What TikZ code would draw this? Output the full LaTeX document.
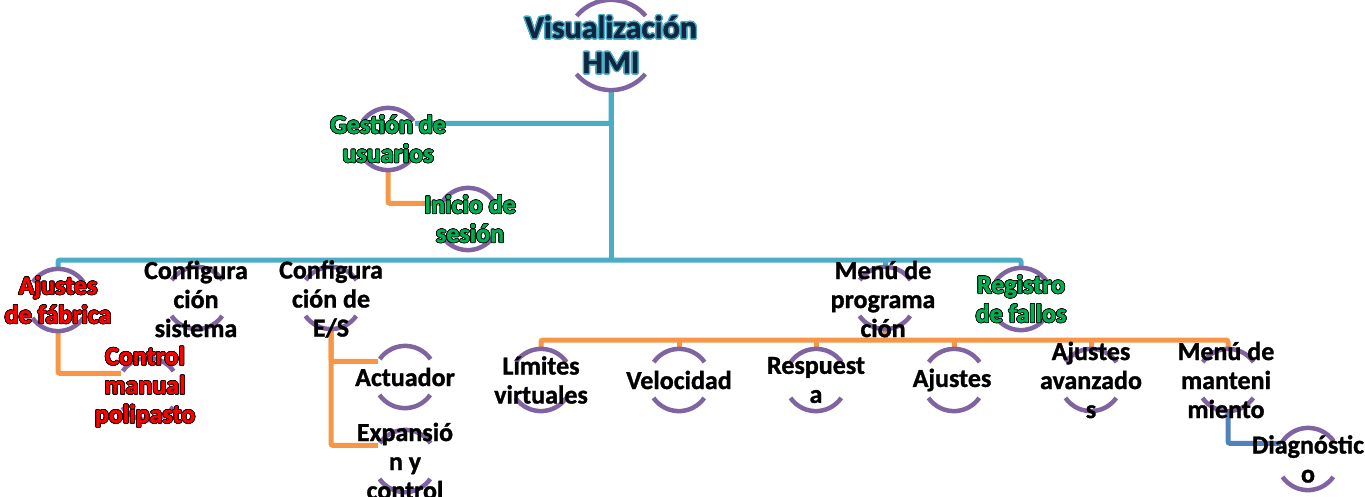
\documentclass[tikz,border=0pt]{standalone}
\usepackage{fontspec}
\setmainfont{Carlito}[BoldFeatures={FakeBold=1.2}]
\usepackage{contour}
\usepackage{xcolor}

\definecolor{busaqua}{HTML}{4BACC6}
\definecolor{branchorange}{HTML}{F79646}
\definecolor{linkblue}{HTML}{4F81BD}
\definecolor{ringpurple}{HTML}{8064A2}
\definecolor{titlenavy}{HTML}{10253F}
\definecolor{titleglow}{HTML}{4BACC6}
\definecolor{okgreen}{HTML}{00B050}
\definecolor{alertred}{HTML}{FF0000}

\newcommand{\titleline}[1]{{\contourlength{1.4pt}\contour{titleglow}{#1}}}
\newcommand{\edgeline}[1]{{\contourlength{0.7pt}\contour{black}{#1}}}

\begin{document}
\begin{tikzpicture}[x=1pt, y=-1pt,
  ring/.style={circle, inner sep=0pt, minimum size=62pt},
  hub/.style={circle, inner sep=0pt, minimum size=90pt},
  txt/.style={align=center, inner sep=0pt, font=\fontsize{26}{29}\selectfont\bfseries},
  toptxt/.style={align=center, inner sep=0pt, font=\fontsize{32}{35}\selectfont\bfseries,
                 text=titlenavy},
  bus/.style={draw=busaqua, line width=5pt, rounded corners=2pt},
  branch/.style={draw=branchorange, line width=5pt, rounded corners=2pt},
  sublink/.style={draw=linkblue, line width=5pt, rounded corners=2pt},
  arcs/.style={draw=ringpurple, line width=4.5pt}
]
\useasboundingbox (0,0) rectangle (1365,496);

% --- rings (positions) ---
\node[hub]  (hmi)       at (611,45)   {};
\node[ring] (users)     at (388,139)  {};
\node[ring] (login)     at (468,219)  {};
\node[ring] (factory)   at (58,300)   {};
\node[ring] (sysconf)   at (197,298)  {};
\node[ring] (ioconf)    at (331,298)  {};
\node[ring] (manual)    at (148,389)  {};
\node[ring] (actuator)  at (405,377)  {};
\node[ring] (expansion) at (405,461)  {};
\node[ring] (progmenu)  at (885,298)  {};
\node[ring] (faults)    at (1021,299) {};
\node[ring] (limits)    at (541,380)  {};
\node[ring] (speed)     at (679,380)  {};
\node[ring] (response)  at (816,380)  {};
\node[ring] (settings)  at (954,380)  {};
\node[ring] (advanced)  at (1091,380) {};
\node[ring] (maint)     at (1228,380) {};
\node[ring] (diag)      at (1308,459) {};

\coordinate (busbar)  at (611,260);
\coordinate (progbar) at (885,340);

% --- connectors ---
\draw[bus] (hmi.south) -- (busbar);
\draw[bus] (users.30) -| (hmi.south);
\draw[bus] (factory.north) |- (busbar) -| (faults.north);
\draw[bus] (sysconf.north) -- (sysconf.north |- busbar);
\draw[bus] (ioconf.north) -- (ioconf.north |- busbar);
\draw[bus] (progmenu.north) -- (progmenu.north |- busbar);

\draw[branch] (users.south) |- (login.150);
\draw[branch] (factory.south) |- (manual.150);
\draw[branch] (ioconf.south) |- (actuator.150);
\draw[branch] (ioconf.south) |- (expansion.150);
\draw[branch] (progmenu.south) -- (progbar);
\draw[branch] (limits.north) |- (progbar) -| (maint.north);
\foreach \c in {speed,response,settings,advanced}
  \draw[branch] (\c.north) -- (\c.north |- progbar);
\draw[sublink] (maint.south) |- (diag.150);

% --- purple arcs ---
\draw[arcs] (hmi.40) arc[start angle=40, end angle=140, radius=45pt]
            (hmi.220) arc[start angle=220, end angle=320, radius=45pt];
\foreach \n in {users,login,factory,sysconf,ioconf,manual,actuator,expansion,
                progmenu,faults,limits,speed,response,settings,advanced,maint,diag}
  \draw[arcs] (\n.35) arc[start angle=35, end angle=145, radius=31pt]
              (\n.215) arc[start angle=215, end angle=325, radius=31pt];

% --- texts ---
\node[toptxt] (hmi-txt) at (hmi) {\titleline{Visualización}\\\titleline{HMI}};
\node[txt, text=okgreen] (users-txt) at (users) {\edgeline{Gestión de}\\\edgeline{usuarios}};
\node[txt, text=okgreen] (login-txt) at (470,219) {\edgeline{Inicio de}\\\edgeline{sesión}};
\node[txt, text=alertred] (factory-txt) at (factory) {\edgeline{Ajustes}\\\edgeline{de fábrica}};
\node[txt] (sysconf-txt) at (196,299) {Configura\\ción\\sistema};
\node[txt] (ioconf-txt) at (331,299) {Configura\\ción de\\E/S};
\node[txt, text=alertred] (manual-txt) at (145,387) {\edgeline{Control}\\\edgeline{manual}\\\edgeline{polipasto}};
\node[txt] (actuator-txt) at (actuator) {Actuador};
\node[txt] (expansion-txt) at (expansion) {Expansió\\n y\\control};
\node[txt] (progmenu-txt) at (883,299) {Menú de\\programa\\ción};
\node[txt, text=okgreen] (faults-txt) at (faults) {\edgeline{Registro}\\\edgeline{de fallos}};
\node[txt] (limits-txt) at (limits) {Límites\\virtuales};
\node[txt] (speed-txt) at (speed) {Velocidad};
\node[txt] (response-txt) at (response) {Respuest\\a};
\node[txt] (settings-txt) at (952,380) {Ajustes};
\node[txt] (advanced-txt) at (advanced) {Ajustes\\avanzado\\s};
\node[txt] (maint-txt) at (1226,380) {Menú de\\manteni\\miento};
\node[txt] (diag-txt) at (diag) {Diagnóstic\\o};

\end{tikzpicture}
\end{document}
